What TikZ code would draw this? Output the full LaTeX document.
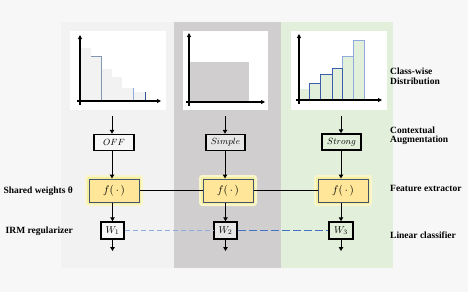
\documentclass[tikz,border=0pt]{standalone}
\usepackage{fontspec}
\setmainfont{Liberation Serif}
\usetikzlibrary{arrows.meta,calc}
\definecolor{bgout}{HTML}{F7F7F7}
\definecolor{pone}{HTML}{F2F2F2}
\definecolor{ptwo}{HTML}{D0CECE}
\definecolor{pthree}{HTML}{E2EFDA}
\definecolor{boxtwo}{HTML}{E7E6E6}
\definecolor{fyellow}{HTML}{FFE699}
\definecolor{fborder}{HTML}{44546A}
\definecolor{glowA}{HTML}{F4EFA0}
\definecolor{glowB}{HTML}{F9F6CC}
\definecolor{bluedark}{HTML}{2F5597}
\definecolor{bluemid}{HTML}{3A5EA8}
\definecolor{bluelight}{HTML}{8FAADC}
\definecolor{bluesteel}{HTML}{8497B0}
\definecolor{dashA}{HTML}{8FAADC}
\definecolor{dashB}{HTML}{4472C4}
\begin{document}
\begin{tikzpicture}[x=1pt,y=-1pt,
  axis/.style={line width=1.6pt,-{Triangle[length=4pt,width=4pt]}},
  arr/.style={line width=1pt,-{Triangle[length=4pt,width=4.5pt]}},
  augbox/.style={draw=black,line width=1.5pt,inner sep=0pt,minimum height=16pt,font=\fontsize{9.5}{10}\selectfont},
  fbox/.style={draw=fborder,fill=fyellow,line width=1pt,minimum width=50pt,minimum height=23pt,inner sep=0pt,font=\fontsize{10.5}{11}\selectfont},
  wbox/.style={draw=black,line width=1.5pt,minimum width=23pt,minimum height=17pt,inner sep=0pt,font=\fontsize{10}{11}\selectfont},
  lab/.style={font=\fontsize{9.5}{10.5}\selectfont\bfseries,inner sep=0pt,align=left},
  glow/.style={fill=glowB,rounded corners=3pt},
  glowin/.style={fill=glowA,rounded corners=2pt}
]
\useasboundingbox (0,0) rectangle (468,292);
\fill[bgout] (0,0) rectangle (468,292);
% panels
\fill[pone] (61,22) rectangle (174,268);
\fill[ptwo] (174,22) rectangle (281,268);
\fill[pthree] (281,22) rectangle (393,268);
% chart backgrounds
\fill[white] (70,31) rectangle (166,110);
\fill[white] (183,31) rectangle (268,110);
\fill[white] (291,31) rectangle (387,110);
% chart 1
\fill[pone] (81,48) rectangle (91,101);
\fill[pone] (91,56) rectangle (101,101);
\fill[pone] (101,69) rectangle (112,101);
\fill[pone] (112,77) rectangle (122,101);
\fill[pone] (122,88) rectangle (133,101);
\fill[pone] (133,92) rectangle (145,101);
\draw[bluesteel,line width=0.9pt] (91,56) -- (101,56) -- (101,101);
\draw[bluesteel,line width=1pt] (112,100) -- (122,100);
\draw[bluelight,line width=0.9pt] (133,88) -- (133,101);
\draw[bluedark,line width=1pt] (145,92) -- (145,101);
\draw[axis] (80,105) -- (80,35);
\draw[axis] (77,101) -- (161,101);
% chart 2
\fill[ptwo] (189,62) rectangle (249,102);
\draw[axis] (189,106) -- (189,33);
\draw[axis] (186,102) -- (265,102);
% chart 3
\fill[pthree] (299,89) rectangle (309,100);
\filldraw[fill=pthree,draw=bluelight,line width=0.8pt] (342,56) rectangle (353,100);
\filldraw[fill=pthree,draw=bluelight,line width=0.8pt] (353,40) rectangle (364,100);
\filldraw[fill=pthree,draw=bluemid,line width=0.8pt] (309,83) rectangle (320,100);
\filldraw[fill=pthree,draw=bluemid,line width=0.8pt] (320,74) rectangle (332,100);
\filldraw[fill=pthree,draw=bluemid,line width=0.8pt] (332,68) rectangle (342,100);
\draw[axis] (299,104) -- (299,34);
\draw[axis] (296,100) -- (382,100);
% glows
\foreach \cx in {114,228,343}{
  \fill[glow] (\cx-29,175) rectangle (\cx+29,206);
  \fill[glowin] (\cx-27,177) rectangle (\cx+27,204);
}
% augmentation boxes
\node[augbox,fill=bgout,minimum width=40pt] (aug1) at (114,142.5) {$OFF$};
\node[augbox,fill=boxtwo,minimum width=39pt] (aug2) at (225.5,142.5) {$Simple$};
\node[augbox,minimum width=39pt] (aug3) at (341.5,142) {$Strong$};
% chart -> aug
\coordinate (c1) at (112,116);
\coordinate (c2) at (225,116);
\coordinate (c3) at (341,116);
\draw[arr] (c1) -- (c1 |- aug1.north);
\draw[arr] (c2) -- (c2 |- aug2.north);
\draw[arr] (c3) -- (c3 |- aug3.north);
% feature extractors
\node[fbox] (f1) at (114,190.5) {$f(\,\cdot\,)$};
\node[fbox] (f2) at (228,190.5) {$f(\,\cdot\,)$};
\node[fbox] (f3) at (343,190.5) {$f(\,\cdot\,)$};
\draw[arr] (aug1.south -| c1) -- (c1 |- f1.north);
\draw[arr] (aug2.south -| c2) -- (c2 |- f2.north);
\draw[arr] (aug3.south -| c3) -- (c3 |- f3.north);
\draw[line width=1.2pt] (f1.east) -- (f2.west);
\draw[line width=1.2pt] (f2.east) -- (f3.west);
% linear classifiers
\node[wbox,fill=bgout] (w1) at (112.5,230.5) {$W_1$};
\node[wbox,fill=boxtwo] (w2) at (225.5,230.5) {$W_2$};
\node[wbox,minimum width=24pt] (w3) at (341,230.5) {$W_3$};
\draw[arr] (f1.south -| w1) -- (w1.north);
\draw[arr] (f2.south -| w2) -- (w2.north);
\draw[arr] (f3.south -| w3) -- (w3.north);
\coordinate (o1) at (112.5,251);
\coordinate (o2) at (225.5,251);
\coordinate (o3) at (341,251);
\draw[arr] (w1.south) -- (o1);
\draw[arr] (w2.south) -- (o2);
\draw[arr] (w3.south) -- (o3);
\draw[dashA,line width=1.3pt,dash pattern=on 5pt off 3pt] (w1.east) -- (w2.west);
\draw[dashB,line width=0.7pt,dash pattern=on 8pt off 3pt] (w2.east) -- (w3.west);
% right labels
\node[lab,anchor=west] (l1) at (390,76.5) {Class-wise\\[-1pt]Distribution};
\node[lab,anchor=west] (l2) at (390,135.5) {Contextual\\[-1pt]Augmentation};
\node[lab,anchor=west] (l3) at (390,188) {Feature extractor};
\node[lab,anchor=west] (l4) at (390,235) {Linear classifier};
% left labels
\node[lab,anchor=east] (l5) at (73,191.5) {Shared weights θ};
\node[lab,anchor=east] (l6) at (73,231) {IRM regularizer};
\end{tikzpicture}
\end{document}
